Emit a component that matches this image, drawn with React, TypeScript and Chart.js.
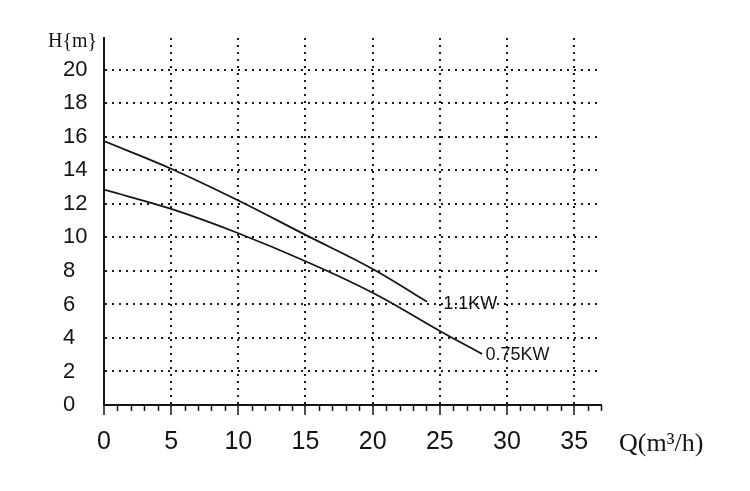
import React, { useEffect, useRef } from "react";
import { Chart, registerables } from "chart.js";

Chart.register(...registerables);

// ---- data ----
const flow11 = [0, 5, 10, 15, 20, 24.05];
const head11 = [15.75, 14.1, 12.2, 10.15, 8.12, 6.16];
const flow075 = [0, 5, 10, 15, 20, 25, 28.15];
const head075 = [12.85, 11.7, 10.25, 8.58, 6.7, 4.42, 3.05];
const seriesNames = ["1.1KW", "0.75KW"];
const labelFlow = [25.25, 28.4];
const labelHead = [6, 3];
const xMin = 0;
const xMax = 37;
const xMajorStep = 5;
const yMin = 0;
const yMax = 21.9;
const yStep = 2;
const yTitle = "H{m}";
const xTitle = "Q(m³/h)";

const INK = "#151515";
const CLEAR = "rgba(0,0,0,0)";

const decorPlugin = {
  id: "decor",
  afterDraw(chart: any) {
    const { ctx, chartArea, scales } = chart;
    const xs = scales.x;
    const ys = scales.y;
    ctx.save();
    // minor ticks on the x axis
    ctx.strokeStyle = INK;
    ctx.lineWidth = 1.5;
    for (let v = xMin + 1; v <= xMax; v++) {
      if (v % xMajorStep === 0) continue;
      const px = Math.round(xs.getPixelForValue(v)) + 0.5;
      ctx.beginPath();
      ctx.moveTo(px, chartArea.bottom);
      ctx.lineTo(px, chartArea.bottom + 6);
      ctx.stroke();
    }
    // series labels
    ctx.fillStyle = INK;
    ctx.font = '18px "Liberation Sans", Arial, sans-serif';
    ctx.textAlign = "left";
    ctx.textBaseline = "middle";
    seriesNames.forEach((name, i) => {
      ctx.fillText(name, xs.getPixelForValue(labelFlow[i]), ys.getPixelForValue(labelHead[i]));
    });
    // axis titles
    ctx.font = '20px "Liberation Serif", "DejaVu Serif", serif';
    ctx.textBaseline = "alphabetic";
    ctx.fillText(yTitle, chartArea.left - 56, chartArea.top + 9);
    ctx.font = '26px "Liberation Serif", "DejaVu Serif", serif';
    ctx.fillText(xTitle, chartArea.right + 18, chartArea.bottom + 46);
    ctx.restore();
  },
};

export default function App() {
  const ref = useRef<HTMLCanvasElement>(null);

  useEffect(() => {
    const canvas = ref.current;
    if (!canvas) return;
    const chart = new Chart(canvas, {
      type: "line",
      data: {
        datasets: [
          {
            label: seriesNames[0],
            data: flow11.map((q, i) => ({ x: q, y: head11[i] })),
            borderColor: INK,
            borderWidth: 1.8,
            pointRadius: 0,
            fill: false,
            tension: 0.4,
          },
          {
            label: seriesNames[1],
            data: flow075.map((q, i) => ({ x: q, y: head075[i] })),
            borderColor: INK,
            borderWidth: 1.8,
            pointRadius: 0,
            fill: false,
            tension: 0.4,
          },
        ],
      },
      options: {
        responsive: false,
        animation: false,
        layout: { padding: { left: 63, top: 38, right: 149, bottom: 0 } },
        plugins: {
          legend: { display: false },
          tooltip: { enabled: false },
          title: { display: false },
        },
        scales: {
          x: {
            type: "linear",
            min: xMin,
            max: xMax,
            afterFit(scale: any) {
              scale.height = 86;
            },
            ticks: {
              stepSize: 1,
              autoSkip: false,
              maxRotation: 0,
              includeBounds: false,
              padding: 12,
              color: INK,
              font: { family: '"Liberation Sans", Arial, sans-serif', size: 25 },
              callback: (v: any) => (Number(v) % xMajorStep === 0 ? String(v) : ""),
            },
            grid: {
              color: (c: any) =>
                c.tick && c.tick.value % xMajorStep === 0 && c.tick.value !== 0 ? "#1a1a1a" : CLEAR,
              lineWidth: 2,
              drawTicks: true,
              tickLength: 10,
              tickWidth: 1.5,
              tickColor: (c: any) => (c.tick && c.tick.value % xMajorStep === 0 ? INK : CLEAR),
            },
            border: { display: true, color: INK, width: 2, dash: [2, 5] },
          },
          y: {
            type: "linear",
            min: yMin,
            max: yMax,
            afterFit(scale: any) {
              scale.width = 41;
            },
            ticks: {
              stepSize: yStep,
              includeBounds: false,
              crossAlign: "far",
              color: INK,
              font: { family: '"Liberation Sans", Arial, sans-serif', size: 22 },
            },
            grid: {
              color: (c: any) => (c.tick && c.tick.value === 0 ? CLEAR : "#1a1a1a"),
              lineWidth: 2,
              drawTicks: false,
            },
            border: { display: true, color: INK, width: 2, dash: [2, 5] },
          },
        },
      },
      plugins: [decorPlugin],
    } as any);
    return () => chart.destroy();
  }, []);

  return (
    <div style={{ position: "fixed", left: 0, top: 0, width: 750, height: 491, background: "#fff" }}>
      <canvas ref={ref} width={750} height={491} style={{ width: 750, height: 491, display: "block" }} />
    </div>
  );
}
